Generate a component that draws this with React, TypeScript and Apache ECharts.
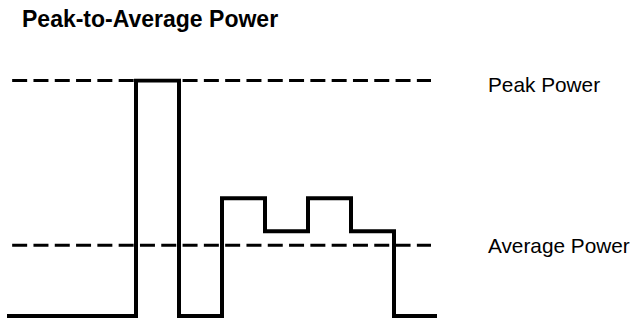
import React, { useEffect, useRef } from "react";
import * as echarts from "echarts";

// Time edges of the step waveform and power level within each segment
const stepEdges = [0, 3, 4, 5, 6, 7, 8, 9, 10];
const stepLevels = [0, 10, 0, 5, 3.6, 5, 3.6, 0];
// Reference levels
const peakPower = 10;
const averagePower = 3;
const referenceSpan = [0.12, 9.86];
const titleText = "Peak-to-Average Power";
const peakLabel = "Peak Power";
const averageLabel = "Average Power";

const stepPoints: number[][] = [];
stepLevels.forEach((lvl, i) => {
  stepPoints.push([stepEdges[i], lvl]);
  stepPoints.push([stepEdges[i + 1], lvl]);
});

const refSeries = (name: string, level: number, dy: number) => ({
  name,
  type: "line",
  data: referenceSpan.map((x) => [x, level]),
  symbol: "none",
  silent: true,
  lineStyle: { color: "#000", width: 3, type: [15, 6.3], cap: "butt" },
  endLabel: {
    show: true,
    formatter: name,
    distance: 57,
    offset: [0, dy],
    color: "#000",
    fontSize: 20.8,
    fontFamily: "Liberation Sans, Arial, sans-serif",
  },
  z: 1,
});

export default function App() {
  const ref = useRef<HTMLDivElement>(null);
  useEffect(() => {
    if (!ref.current) return;
    const chart = echarts.init(ref.current, null, { renderer: "svg" });
    chart.setOption({
      animation: false,
      backgroundColor: "#fff",
      title: {
        text: titleText,
        left: 22,
        top: 7,
        padding: 0,
        textStyle: {
          color: "#000",
          fontSize: 23,
          fontWeight: "bold",
          fontFamily: "Liberation Sans, Arial, sans-serif",
        },
      },
      grid: { left: 7, top: 80.5, width: 430, height: 235.5 },
      xAxis: { type: "value", min: 0, max: 10, show: false },
      yAxis: { type: "value", min: 0, max: 10, show: false },
      series: [
        refSeries(peakLabel, peakPower, 4),
        refSeries(averageLabel, averagePower, 0),
        {
          name: "waveform",
          type: "line",
          data: stepPoints,
          symbol: "none",
          silent: true,
          lineStyle: { color: "#000", width: 4, cap: "butt", join: "miter" },
          z: 2,
        },
      ],
    });
    return () => chart.dispose();
  }, []);
  return (
    <div
      ref={ref}
      style={{ position: "fixed", left: 0, top: 0, width: 634, height: 320 }}
    />
  );
}
